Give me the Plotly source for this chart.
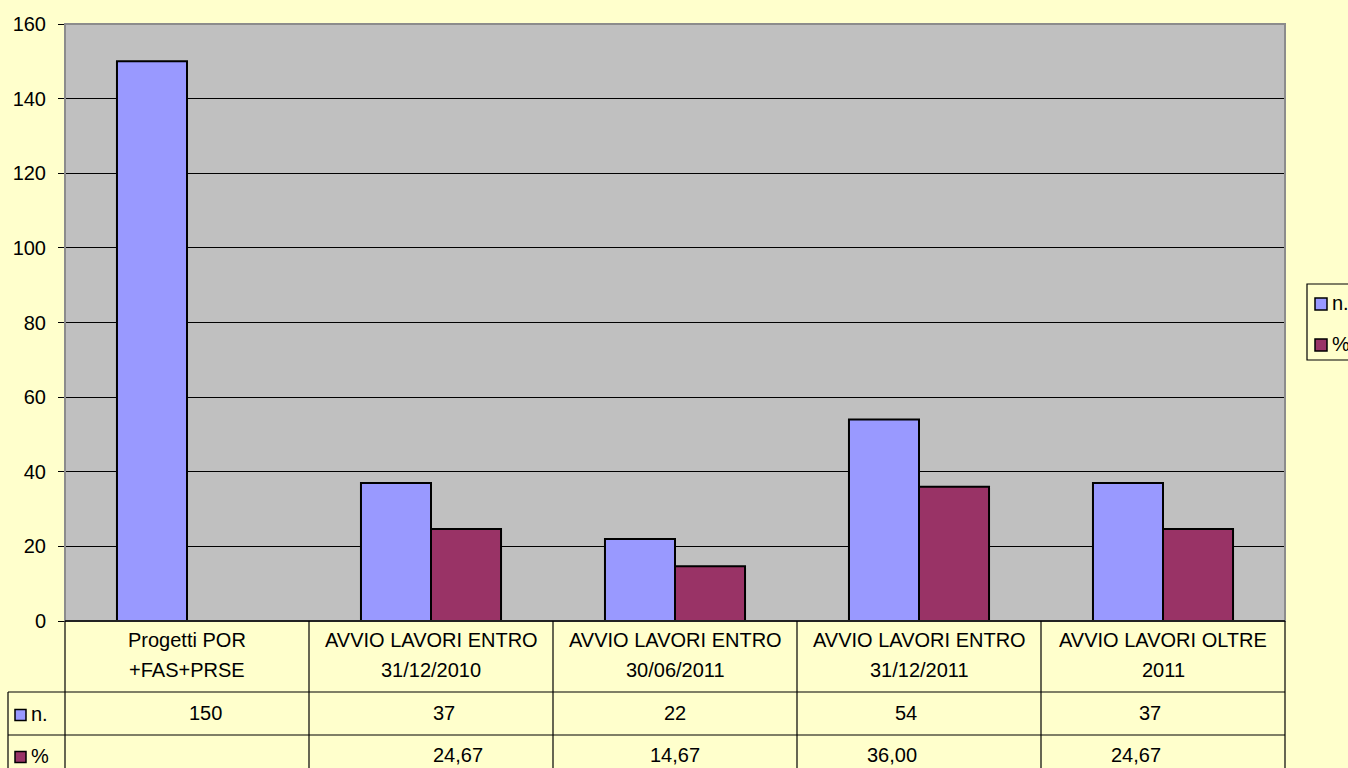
import plotly.graph_objects as go

# ---- data ----
categories = ["Progetti POR<br>+FAS+PRSE",
              "AVVIO LAVORI ENTRO<br>31/12/2010",
              "AVVIO LAVORI ENTRO<br>30/06/2011",
              "AVVIO LAVORI ENTRO<br>31/12/2011",
              "AVVIO LAVORI OLTRE<br>2011"]
n_values = [150, 37, 22, 54, 37]
pct_values = [None, 24.67, 14.67, 36.00, 24.67]
series_names = ["n.", "%"]
y_ticks = [0, 20, 40, 60, 80, 100, 120, 140, 160]

# ---- styles ----
W, H = 1348, 768
L, R, T, B = 65, 1285, 24, 621
BG = "#FFFFCC"
PLOT_BG = "#C0C0C0"
C_N = "#9999FF"
C_P = "#993366"
FONT = "Liberation Sans, Arial, sans-serif"
FS = 20

def px(xp):
    return (xp - L) / (R - L)

def py(yp):
    return (B - yp) / (B - T)

idx = list(range(len(categories)))

fig = go.Figure()
fig.add_trace(go.Bar(x=idx, y=n_values, name=series_names[0],
                     marker=dict(color=C_N, line=dict(color="black", width=2))))
fig.add_trace(go.Bar(x=idx, y=pct_values, name=series_names[1],
                     marker=dict(color=C_P, line=dict(color="black", width=2))))

shapes = []
annotations = []
ncat = len(categories)

# plot area border
shapes.append(dict(type="rect", xref="paper", yref="paper", x0=0, x1=1, y0=0, y1=1,
                   line=dict(color="#8C8C8C", width=2), layer="above"))
# x axis baseline
shapes.append(dict(type="line", xref="paper", yref="paper", x0=0, x1=1, y0=0, y1=0,
                   line=dict(color="black", width=1.5), layer="above"))

# table geometry (pixels)
row_top = B
row_n = 692
row_p = 735
row_bot = 800
left_x = 8
line_style = dict(color="black", width=1.2)

for k in range(ncat + 1):
    shapes.append(dict(type="line", xref="paper", yref="paper", x0=k / ncat, x1=k / ncat,
                       y0=py(row_top), y1=py(row_bot), line=line_style))
shapes.append(dict(type="line", xref="paper", yref="paper", x0=px(left_x), x1=px(left_x),
                   y0=py(row_n), y1=py(row_bot), line=line_style))
for yy in (row_n, row_p):
    shapes.append(dict(type="line", xref="paper", yref="paper", x0=px(left_x), x1=1,
                       y0=py(yy), y1=py(yy), line=line_style))

txt_font = dict(family=FONT, size=FS, color="black")

# header labels (two lines each)
for i, c in enumerate(categories):
    for j, line in enumerate(c.split("<br>")):
        annotations.append(dict(xref="paper", yref="paper", x=(i + 0.5) / ncat, y=py(640 + 30 * j),
                                text=line, showarrow=False, font=txt_font,
                                xanchor="center", yanchor="middle"))

def fmt_n(v):
    return "" if v is None else f"{v:g}"

def fmt_p(v):
    return "" if v is None else f"{v:.2f}".replace(".", ",")

yc_n = 713
yc_p = 755
for i in idx:
    annotations.append(dict(xref="paper", yref="paper", x=(i + 0.5) / ncat, y=py(yc_n),
                            text=fmt_n(n_values[i]), showarrow=False, font=txt_font, yanchor="middle"))
    annotations.append(dict(xref="paper", yref="paper", x=(i + 0.5) / ncat, y=py(yc_p),
                            text=fmt_p(pct_values[i]), showarrow=False, font=txt_font, yanchor="middle"))

# table legend keys
for name, col, yc in ((series_names[0], C_N, yc_n + 2), (series_names[1], C_P, yc_p + 2)):
    shapes.append(dict(type="rect", xref="paper", yref="paper", x0=px(15), x1=px(26),
                       y0=py(yc + 5.5), y1=py(yc - 5.5), fillcolor=col, line=dict(color="black", width=1.5)))
    annotations.append(dict(xref="paper", yref="paper", x=px(29), y=py(yc - 1), text=name, showarrow=False,
                            xanchor="left", yanchor="middle", font=txt_font))

# right-side legend (manual, clipped by page edge)
shapes.append(dict(type="rect", xref="paper", yref="paper", x0=px(1307), x1=px(1380),
                   y0=py(284), y1=py(360), fillcolor=BG, line=dict(color="black", width=1.2)))
for name, col, yc in ((series_names[0], C_N, 304), (series_names[1], C_P, 345)):
    shapes.append(dict(type="rect", xref="paper", yref="paper", x0=px(1315), x1=px(1327),
                       y0=py(yc + 6), y1=py(yc - 6), fillcolor=col, line=dict(color="black", width=1.5)))
    annotations.append(dict(xref="paper", yref="paper", x=px(1330), y=py(yc - 1), text=name, showarrow=False,
                            xanchor="left", yanchor="middle", font=txt_font))

fig.update_layout(
    width=W, height=H,
    margin=dict(l=L, r=W - R, t=T, b=H - B, autoexpand=False),
    paper_bgcolor=BG, plot_bgcolor=PLOT_BG,
    barmode="group", bargap=0.426, bargroupgap=0,
    showlegend=False,
    font=txt_font,
    xaxis=dict(range=[-0.5, ncat - 0.5], showticklabels=False, showgrid=False, zeroline=False,
               ticks="", fixedrange=True),
    yaxis=dict(range=[0, 160], tickvals=y_ticks, showgrid=True, gridcolor="black", gridwidth=1,
               zeroline=False, ticks="outside", ticklen=6, tickcolor="black", tickwidth=1,
               ticklabelstandoff=8, tickfont=txt_font, showline=False, fixedrange=True),
    shapes=shapes, annotations=annotations,
)

fig.write_html("out.html", config={"displayModeBar": False},
               post_script="document.body.style.margin='0';document.body.style.overflow='hidden';")
